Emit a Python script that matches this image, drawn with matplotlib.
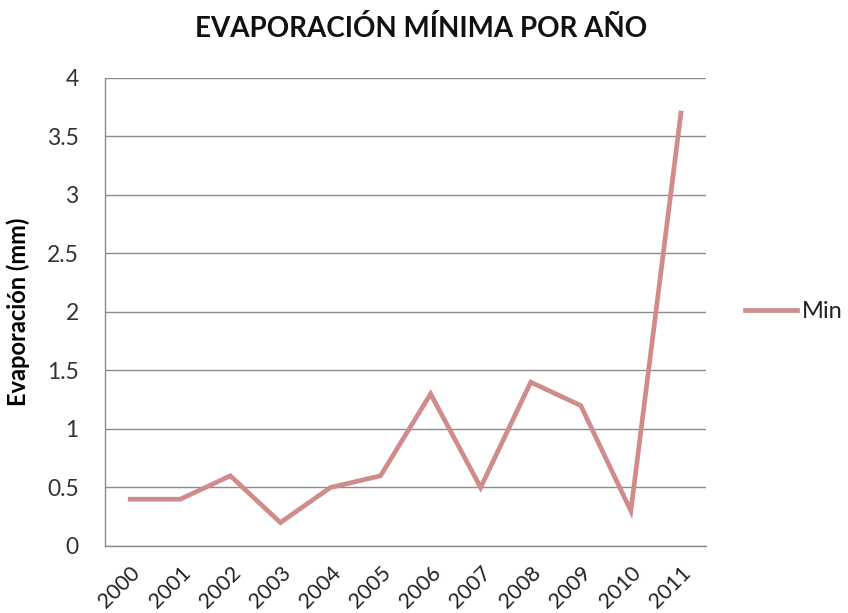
import matplotlib
matplotlib.use("Agg")
import matplotlib.pyplot as plt

years = ["2000", "2001", "2002", "2003", "2004", "2005", "2006", "2007", "2008", "2009", "2010", "2011"]
min_evap = [0.4, 0.4, 0.6, 0.2, 0.5, 0.6, 1.3, 0.5, 1.4, 1.2, 0.3, 3.7]
yticks = [0, 0.5, 1, 1.5, 2, 2.5, 3, 3.5, 4]
ytick_labels = ["0", "0.5", "1", "1.5", "2", "2.5", "3", "3.5", "4"]

plt.rcParams['font.family'] = ['Lato', 'DejaVu Sans']

fig = plt.figure(figsize=(8.48, 6.13), dpi=100)
ax = fig.add_axes([0.124, 0.1093, 0.7085, 0.7635])

x = list(range(len(years)))
ax.plot(x, min_evap, color="#D08C8C", linewidth=3.4, label="Min", solid_joinstyle="miter")

ax.set_xlim(-0.5, len(years) - 0.5)
ax.set_ylim(0, 4)
ax.set_yticks(yticks)
ax.set_yticklabels(ytick_labels, fontsize=16.5, color="#333333")
ax.set_xticks(x)
ax.set_xticklabels(years, rotation=45, ha="right", rotation_mode="anchor", fontsize=15.5,
                   color="#222222")
ax.tick_params(axis="both", length=0)
ax.tick_params(axis="x", pad=12)
ax.tick_params(axis="y", pad=19)
ax.yaxis.grid(True, color="#8C8C8C", linewidth=1.0)
ax.set_axisbelow(True)
for s in ["top", "right"]:
    ax.spines[s].set_visible(False)
for s in ["left", "bottom"]:
    ax.spines[s].set_color("#8C8C8C")
    ax.spines[s].set_linewidth(1.0)

ax.set_ylabel("Evaporación (mm)", fontsize=17, fontweight="bold")
ax.yaxis.set_label_coords(-0.125, 0.5)
fig.suptitle("EVAPORACIÓN MÍNIMA POR AÑO", fontsize=20, fontweight="bold", y=0.975, x=0.497,
             color="#111111")

leg = ax.legend(loc="center left", bbox_to_anchor=(1.03, 0.5), frameon=False,
                fontsize=17, handlelength=2.2, handletextpad=0.2)
for t in leg.get_texts():
    t.set_color("#222222")

fig.savefig("out.png", dpi=100)
